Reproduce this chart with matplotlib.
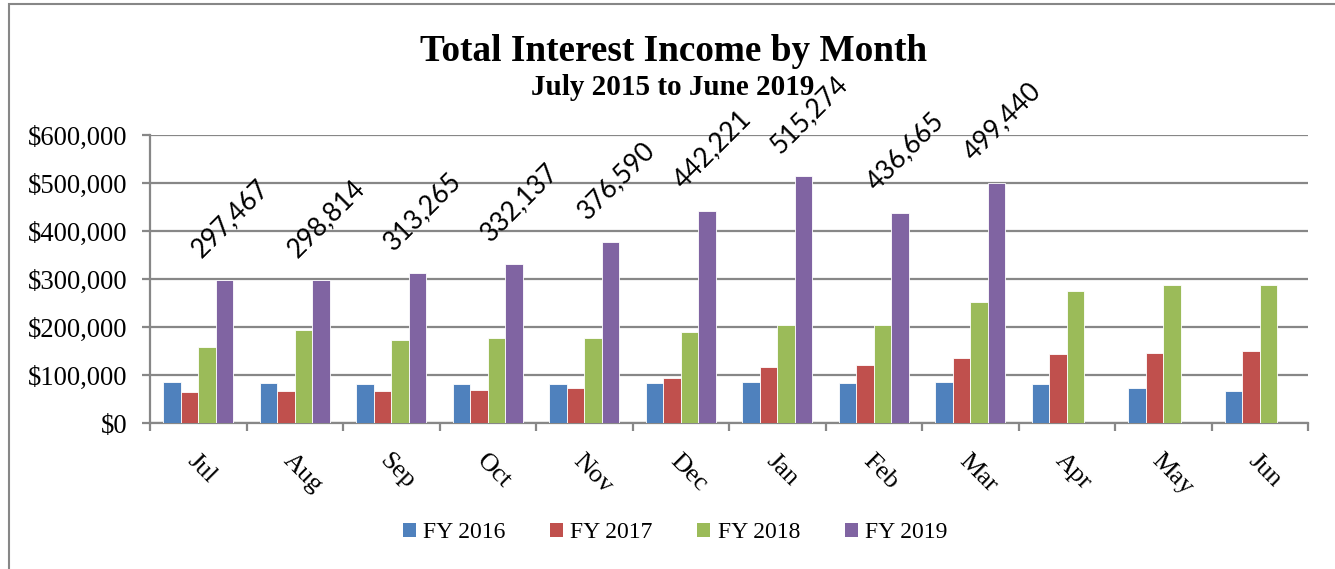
import numpy as np
import matplotlib
matplotlib.use("Agg")
import matplotlib.pyplot as plt
from matplotlib.patches import Patch, Rectangle
from matplotlib.ticker import FuncFormatter

# values
months = ["Jul", "Aug", "Sep", "Oct", "Nov", "Dec", "Jan", "Feb", "Mar", "Apr", "May", "Jun"]
fy2016 = [85000, 83000, 81000, 81000, 82000, 84000, 85000, 83500, 86000, 82000, 73500, 68000]
fy2017 = [66000, 67500, 67000, 69000, 74500, 95000, 116500, 120700, 136000, 144000, 146000, 150500]
fy2018 = [159000, 195000, 173000, 177000, 177000, 191000, 204000, 205000, 252000, 275000, 287000, 288000]
fy2019 = [297467, 298814, 313265, 332137, 376590, 442221, 515274, 436665, 499440]
series_names = ["FY 2016", "FY 2017", "FY 2018", "FY 2019"]
colors = ["#4F81BD", "#C0504D", "#9BBB59", "#8064A2"]

W, H = 1335, 569
fig = plt.figure(figsize=(W / 100, H / 100), dpi=100)
ax = fig.add_axes([150 / W, 1 - 423.3 / H, (1308 - 150) / W, (423.3 - 135) / H])

serif = "Liberation Serif"
grey = "#878787"

x = np.arange(len(months))
bw = 0.181
all_series = [fy2016, fy2017, fy2018, fy2019]
for i, (vals, c) in enumerate(zip(all_series, colors)):
    xs = x[:len(vals)] + (i - 1.5) * bw
    ax.bar(xs, vals, width=bw, color=c, edgecolor="white", linewidth=0.6, zorder=3)

# rotated data labels on FY 2019 bars
for xi, v in zip(x[:len(fy2019)] + 1.5 * bw, fy2019):
    ax.annotate(f"{v:,}", (xi, v), xytext=(4, 13), textcoords="offset points",
                rotation=45, ha="center", va="bottom", fontsize=19,
                family="Lato", color="black", annotation_clip=False, zorder=4)

ax.set_xlim(-0.5, 11.5)
ax.set_ylim(0, 600000)
ax.set_yticks(np.arange(0, 600001, 100000))
ax.yaxis.set_major_formatter(FuncFormatter(lambda v, p: f"${v:,.0f}"))
ax.grid(axis="y", color=grey, linewidth=1.6, zorder=0)
ax.set_axisbelow(True)

for s in ["top", "right"]:
    ax.spines[s].set_visible(False)
for s in ["left", "bottom"]:
    ax.spines[s].set_color(grey)
    ax.spines[s].set_linewidth(1.6)

ax.tick_params(axis="y", direction="out", length=6, width=1.6, color=grey,
               pad=10, labelsize=19.2)
for lab in ax.get_yticklabels():
    lab.set_family(serif)

# boundaries get tick marks, centers carry the month names
ax.set_xticks(np.arange(-0.5, 12, 1), minor=True)
ax.set_xticks(x)
ax.set_xticklabels(months, rotation=-45, ha="left", rotation_mode="anchor",
                   family=serif, fontsize=19)
ax.tick_params(axis="x", which="major", length=0, pad=19)
ax.tick_params(axis="x", which="minor", direction="out", length=6, width=1.6, color=grey)

fig.text(674 / W, 1 - 61 / H, "Total Interest Income by Month", ha="center",
         va="baseline", family=serif, weight="bold", fontsize=26.8)
fig.text(673 / W, 1 - 95 / H, "July 2015 to June 2019", ha="center",
         va="baseline", family=serif, weight="bold", fontsize=21)

handles = [Patch(facecolor=c, edgecolor="none") for c in colors]
fig.legend(handles, series_names, loc="center", bbox_to_anchor=(675 / W, 1 - 533 / H),
           ncol=4, frameon=False, prop={"family": serif, "size": 17},
           handlelength=0.55, handleheight=0.55, handletextpad=0.3, columnspacing=1.9)

# outer chart frame, cut off at the right and bottom like the reference
fig.patches.append(Rectangle((9 / W, -0.5), 2, 1.5 - 4 / H, transform=fig.transFigure,
                             fill=False, edgecolor=grey, linewidth=1.5, clip_on=False))

fig.savefig("out.png", dpi=100)
